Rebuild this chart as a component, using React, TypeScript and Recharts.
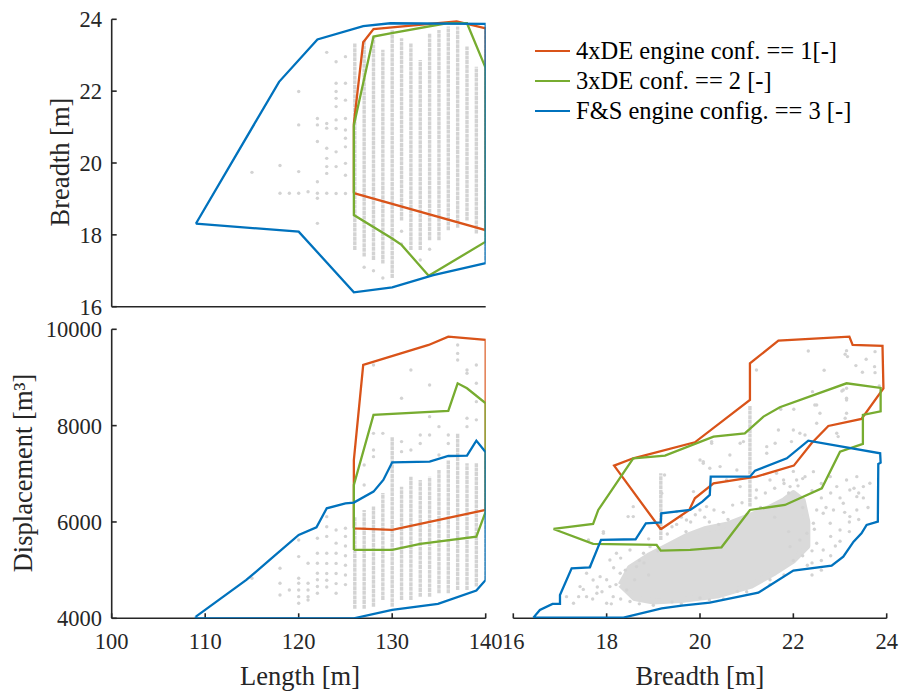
import React from 'react'
import { ComposedChart, Scatter, XAxis, YAxis } from 'recharts'

const RED = '#D95319'
const GREEN = '#77AC30'
const BLUE = '#0072BD'
const GREY = '#d3d3d3'
const INK = '#262626'
const FONT = '"Liberation Serif", "Times New Roman", serif'

const lengthTicks = [100, 110, 120, 130, 140]
const breadthTicks = [16, 18, 20, 22, 24]
const dispTicks = [4000, 6000, 8000, 10000]

const legendNames = ['4xDE engine conf. == 1[-]', '3xDE conf. == 2 [-]', 'F&S engine config. == 3 [-]']
const legendColors = [RED, GREEN, BLUE]

// ---- Length vs Breadth (top left) ----
const lbRed = [[125.9, 19.16], [125.9, 21.1], [126.9, 23.36], [128, 23.73], [136.9, 23.94], [140, 23.75], [140, 18.13], [125.9, 19.16]]
const lbGreen = [[125.9, 21.05], [128, 23.52], [129.8, 23.61], [135.8, 23.89], [138, 23.89], [140, 22.64], [140, 17.81], [133.9, 16.86], [131, 17.72], [130, 17.9], [125.9, 18.55], [125.9, 21.05]]
const lbBlue = [[109, 18.31], [117.9, 22.26], [122, 23.44], [126.9, 23.81], [129.8, 23.89], [140, 23.87], [140, 17.21], [134.4, 16.88], [130, 16.54], [125.9, 16.4], [120, 18.09], [109, 18.31]]
// dense columns of samples: length, lowest breadth, highest breadth
const lbColumns = [
  [126, 17.58, 23.33], [127, 17.4, 23.4], [128, 17.3, 23.52], [129, 17.2, 23.15], [130, 16.8, 23.7],
  [131, 18.4, 23.47], [132, 17.58, 23.33], [133, 17.58, 22.87], [134, 17.85, 23.6], [135, 17.85, 23.7],
  [136, 18.13, 23.8], [137, 18.2, 23.8], [138, 18.4, 23.24], [139, 18.04, 22.68], [140, 17.3, 23.8],
]
const lbDots = [
  [124, 22.82], [124, 22.22], [124, 21.99], [124, 21.8], [124, 21.57], [124, 21.2], [124, 20.96], [124, 20.31], [124, 19.9], [124, 19.15],
  [125, 22.96], [125, 22.22], [125, 21.75], [125, 21.24], [125, 20.92], [125, 20.69], [125, 20.45], [125, 19.99], [125, 19.66], [125, 19.15],
  [123, 23.08], [123, 21.1], [123, 20.97], [123, 20.41], [123, 20.13], [123, 19.9], [123, 19.71], [123, 19.16],
  [122, 21.24], [122, 21.06], [122, 20.6], [122, 19.48], [122, 19.16], [122, 19.02], [122, 18.32],
  [121, 19.2], [120, 21.99], [120, 21.06], [120, 19.76], [120, 19.16], [119, 19.16], [118, 19.93], [118, 19.16], [115, 19.74],
  [127, 17.1], [128, 17.0], [129, 16.8], [131, 17.75], [131, 18.1], [133, 17.3], [134, 17.6],
]

// ---- Length vs Displacement (bottom left) ----
const ldRed = [[125.9, 5869], [125.9, 7287], [126.9, 9260], [133.9, 9675], [136, 9848], [140, 9779], [140, 6249], [130, 5834], [125.9, 5869]]
const ldGreen = [[125.9, 5419], [125.9, 6768], [128, 8222], [136, 8305], [137, 8879], [138, 8775], [140, 8464], [140, 6215], [139, 5696], [133, 5544], [130, 5419], [125.9, 5419]]
const ldBlue = [
  [109, 4035], [114.4, 4796], [116.9, 5211], [120, 5730], [121.9, 5890], [123, 6284], [125, 6388], [125.9, 6402], [128, 6630], [129.05, 6872],
  [130, 7239], [134, 7253], [136, 7370], [138, 7377], [139, 7689], [140, 7447], [140, 4796], [139, 4575], [134.9, 4298], [130, 4173],
  [125.9, 4000], [109, 4000], [109, 4035],
]
const ldColumns = [
  [126, 4200, 6110], [127, 4200, 6250], [128, 4240, 6320], [129, 4380, 6600], [130, 4240, 7770],
  [131, 4380, 6730], [132, 4380, 6940], [133, 4450, 6870], [134, 4450, 6940], [135, 4520, 7080],
  [136, 4520, 7290], [137, 4590, 7840], [138, 4590, 7220], [139, 4660, 7220], [140, 4800, 7400],
]
const ldDots = [
  [115, 4831], [118, 5038], [118, 4727], [118, 4485], [119, 4589],
  [120, 5627], [120, 5281], [120, 4831], [120, 4727], [120, 4589], [120, 4450], [120, 4312],
  [121, 5142], [121, 4727], [121, 4589], [121, 4450], [121, 4381],
  [122, 5661], [122, 5350], [122, 5142], [122, 4935], [122, 4800], [122, 4660], [122, 4520],
  [123, 6110], [123, 5900], [123, 5700], [123, 5350], [123, 5140], [123, 4930], [123, 4790], [123, 4650],
  [124, 5834], [124, 5560], [124, 5350], [124, 5140], [124, 4930], [124, 4720], [124, 4520],
  [125, 5870], [125, 5700], [125, 5500], [125, 5300], [125, 5100], [125, 4900], [125, 4700],
  [127, 7184], [127, 6768], [128, 9260], [128, 7840], [128, 7495], [128, 7356], [129, 7840], [131, 8568], [131, 7668], [131, 7460],
  [132, 9156], [132, 7495], [133, 7806], [133, 7630], [134, 8844], [134, 8187], [134, 7806], [135, 7979], [135, 7391],
  [136, 7806], [136, 7630], [137, 9675], [137, 9500], [137, 9363], [138, 9156], [138, 9087], [138, 8152], [138, 7979],
  [139, 9260], [139, 8879], [139, 8498], [139, 8120],
]

// ---- Breadth vs Displacement (bottom right) ----
const bdRed = [
  [19.16, 5848], [18.16, 7170], [18.57, 7322], [19.89, 7654], [21.07, 8533], [21.07, 9294], [21.68, 9765], [23.2, 9848], [23.27, 9675],
  [23.91, 9654], [23.93, 8775], [23.46, 8138], [22.75, 7993], [22.39, 7633], [22.01, 7170], [21.21, 6941], [20.29, 6803], [19.89, 6492],
  [19.77, 6249], [19.16, 5848],
]
const bdGreen = [
  [16.86, 5855], [17.71, 5959], [17.82, 6249], [18.57, 7322], [19.25, 7377], [20.29, 7772], [20.96, 7841], [21.36, 8187], [21.71, 8381],
  [23.14, 8879], [23.87, 8782], [23.87, 8298], [23.49, 8222], [23.49, 7620], [23.0, 7460], [22.61, 6699], [21.82, 6353], [21.07, 6249],
  [20.46, 5474], [19.79, 5419], [19.16, 5405], [19.07, 5523], [17.71, 5544], [16.86, 5855],
]
const bdBlue = [
  [16.43, 4014], [16.57, 4173], [16.84, 4298], [17.0, 4298], [17.0, 4485], [17.25, 5038], [17.64, 5059], [17.88, 5627], [18.62, 5641],
  [18.84, 5973], [19.16, 5993], [19.17, 6180], [19.79, 6249], [20.05, 6423], [20.21, 6561], [20.23, 6941], [21.07, 6941], [21.18, 7066],
  [21.86, 7322], [22.32, 7689], [23.86, 7426], [23.87, 7232], [23.82, 7204], [23.81, 6007], [23.57, 5938], [23.46, 5765], [23.29, 5592],
  [23.07, 5281], [22.82, 5094], [22.0, 4990], [21.25, 4533], [20.21, 4326], [19.61, 4263], [19.18, 4208], [18.36, 4014], [16.43, 4014],
]
// outline of the densest part of the sample cloud
const bdCore = [
  [18.3, 4700], [18.5, 5050], [18.9, 5300], [19.3, 5500], [19.7, 5700], [20.1, 5850], [20.6, 5950], [21.0, 6100], [21.4, 6250],
  [21.8, 6450], [22.0, 6600], [22.2, 6450], [22.3, 6000], [22.3, 5500], [22.0, 5200], [21.6, 4950], [21.1, 4680], [20.4, 4480],
  [19.6, 4380], [19.0, 4350], [18.6, 4420], [18.3, 4700],
]
const bdStreaks = [[19.16, 5627, 7011], [21.07, 6320, 8420]]
const bdDots = [
  [22.32, 9550], [23.14, 9557], [23.11, 9481], [23.16, 9433], [23.75, 9536], [23.56, 9377], [21.21, 9156], [22.66, 9149], [23.34, 9246],
  [23.48, 9107], [23.74, 9225], [23.75, 9100], [23.84, 8824], [22.41, 8706], [23.04, 8720], [23.14, 8775], [23.14, 8568], [22.5, 8429],
  [22.01, 8339], [21.73, 8339], [23.14, 8256], [23.11, 8152],
  [20.07, 7253], [20.25, 7633], [20.93, 7668], [21.68, 7910], [22.0, 7910], [22.14, 7841], [22.25, 7806], [21.96, 7668], [22.46, 8429],
  [22.57, 8256], [22.5, 8048], [23.07, 8740], [23.14, 8533], [22.93, 7841], [22.96, 7772], [21.43, 7426], [21.61, 7633], [20.64, 7391],
  [20.79, 7080], [20.43, 7149], [20.21, 7115], [20.57, 6872], [20.86, 6734], [21.21, 6665], [21.5, 6872], [21.64, 7011], [21.79, 6872],
  [21.93, 6734], [22.07, 6872], [22.25, 6941], [22.43, 7045], [22.79, 6941], [22.93, 6734], [23.14, 6872], [23.36, 6941], [23.5, 6734],
  [23.64, 6803], [23.21, 6665], [23.36, 6526], [23.07, 6388], [22.86, 6249], [22.64, 6180], [22.79, 5973], [23.0, 5834], [23.21, 6111],
  [23.36, 6249], [22.43, 5973], [22.29, 5765], [22.14, 5627], [21.93, 5488], [22.5, 5557], [22.64, 5419], [22.9, 5500], [23.2, 6000],
  [19.24, 6976], [19.18, 6596], [18.57, 6111], [18.46, 6111], [17.93, 5800], [17.61, 5627], [18.21, 5350], [18.07, 5211], [17.64, 5073],
  [17.57, 4935], [17.71, 4796], [17.43, 4658], [17.14, 4450], [17.57, 4450], [17.79, 4519], [18.07, 4658], [17.29, 4312], [18.0, 4312],
  [18.14, 4450], [18.43, 4589], [17.86, 4865], [18.29, 4935], [18.64, 5073], [18.5, 5419], [18.79, 5350], [18.93, 5488], [20.07, 7218],
  [19.86, 6630], [19.5, 6215], [19.71, 6042], [20.14, 6319], [20.25, 7668], [20.86, 7633], [21.43, 7564], [20.0, 7287], [17.93, 5765],
  [18.57, 6318], [22.6, 6500], [22.7, 6300], [22.2, 6300], [21.6, 6100], [21.9, 5800], [22.6, 5200], [22.3, 5100], [21.5, 4800],
  [20.8, 4560], [20.0, 4420], [19.4, 4340],
  [17.7, 4400], [17.9, 4550], [18.0, 4800], [18.2, 4700], [18.3, 4400], [18.5, 4350], [18.6, 4800], [18.4, 5000], [18.8, 5150],
  [18.9, 4900], [17.8, 4650], [18.1, 4300], [17.4, 4450], [17.5, 4600],
  [19.3, 5750], [19.5, 5950], [19.7, 5800], [19.9, 6150], [20.1, 6100], [20.3, 6250], [20.5, 6200], [20.7, 6350], [20.9, 6400],
  [21.2, 6500], [21.4, 6600], [21.6, 6700], [21.8, 6800], [22.0, 7050], [22.2, 6900], [21.3, 6300], [21.0, 6150], [20.6, 6050], [19.8, 6000],
  [22.6, 6800], [22.8, 6600], [23.0, 6500], [23.3, 6700], [23.5, 6500], [23.6, 6300], [23.4, 6050], [23.2, 5800], [23.0, 5600],
  [22.8, 5300], [22.6, 5000], [22.4, 4900], [22.2, 5300], [22.0, 5200], [22.4, 5400], [22.8, 5700], [23.4, 6600], [23.1, 6200],
  [20.5, 4400], [21.0, 4550], [21.5, 4700], [21.8, 4900], [20.2, 4380], [19.6, 4300], [19.0, 4270], [18.7, 4300],
  [22.4, 6650], [22.5, 6250], [22.45, 5850], [22.4, 5150], [21.9, 6600], [20.4, 5950], [19.1, 5400], [18.7, 5200],
  [19.4, 5900], [19.6, 6100], [20.0, 6250], [20.2, 6000], [18.9, 5650], [18.3, 5250], [18.15, 5050], [22.1, 6750],
]

const toPts = (arr: number[][]) => arr.map(([x, y]) => ({ x, y }))
const noDot = () => <g />
const greyDot = (p: any) => <circle cx={p.cx} cy={p.cy} r={1.7} fill={GREY} />

const frame = { stroke: INK, strokeWidth: 1.6 }
const tickFont = { fill: INK, fontSize: 22.5, fontFamily: FONT }

function outline(key: string, pts: number[][], color: string) {
  return (
    <Scatter key={key} xAxisId="b" yAxisId="l" data={toPts(pts)} fill={color} shape={noDot}
      line={{ stroke: color, strokeWidth: 2.3 }} isAnimationActive={false} />
  )
}

function columns(key: string, cols: number[][]) {
  return cols.map(([x, lo, hi], i) => (
    <Scatter key={key + i} xAxisId="b" yAxisId="l" data={[{ x, y: lo }, { x, y: hi }]} fill={GREY} shape={noDot}
      line={{ stroke: GREY, strokeWidth: 3.4, strokeDasharray: '4 0.6' }} isAnimationActive={false} />
  ))
}

function dots(key: string, pts: number[][]) {
  return <Scatter key={key} xAxisId="b" yAxisId="l" data={toPts(pts)} fill={GREY} shape={greyDot} isAnimationActive={false} />
}

type PanelProps = {
  left: number; top: number; width: number; height: number
  margin: { top: number; right: number; left: number; bottom: number }
  xDomain: number[]; xTicks: number[]; yDomain: number[]; yTicks: number[]
  xLabels: boolean; yLabels: boolean; yWidth: number; xHeight: number
  children: React.ReactNode
}

function Panel(p: PanelProps) {
  return (
    <div style={{ position: 'absolute', left: p.left, top: p.top }}>
      <ComposedChart width={p.width} height={p.height} margin={p.margin}>
        <XAxis xAxisId="b" type="number" dataKey="x" orientation="bottom" domain={p.xDomain} ticks={p.xTicks} interval={0}
          allowDataOverflow height={p.xHeight} tickSize={-5} tickMargin={20} axisLine={frame} tickLine={frame}
          tick={p.xLabels ? tickFont : false} />
        <XAxis xAxisId="t" type="number" orientation="top" domain={p.xDomain} ticks={p.xTicks} interval={0}
          allowDataOverflow height={0} tickSize={-5} axisLine={frame} tickLine={frame} tick={false} />
        <YAxis yAxisId="l" type="number" dataKey="y" orientation="left" domain={p.yDomain} ticks={p.yTicks} interval={0}
          allowDataOverflow width={p.yWidth} tickSize={-5} tickMargin={14.7} axisLine={frame} tickLine={frame}
          tick={p.yLabels ? tickFont : false} />
        <YAxis yAxisId="r" type="number" orientation="right" domain={p.yDomain} ticks={p.yTicks} interval={0}
          allowDataOverflow width={0} tickSize={-5} axisLine={frame} tickLine={frame} tick={false} />
        {p.children}
      </ComposedChart>
    </div>
  )
}

const titleStyle: React.CSSProperties = {
  position: 'absolute', fontFamily: FONT, fontSize: 26.5, color: INK, whiteSpace: 'nowrap', lineHeight: 1,
}

export default function App() {
  return (
    <div style={{ position: 'absolute', left: 0, top: 0, width: 903, height: 693, background: '#fff', overflow: 'hidden' }}>
      <Panel left={0} top={0} width={500} height={345} margin={{ top: 19.3, right: 14.3, left: 0, bottom: 0 }}
        xDomain={[100, 140]} xTicks={lengthTicks} yDomain={[16, 24]} yTicks={breadthTicks}
        xLabels={false} yLabels yWidth={111.7} xHeight={38.3}>
        {columns('lbc', lbColumns)}
        {dots('lbd', lbDots)}
        {outline('lbr', lbRed, RED)}
        {outline('lbg', lbGreen, GREEN)}
        {outline('lbb', lbBlue, BLUE)}
      </Panel>

      <Panel left={0} top={310} width={510} height={383} margin={{ top: 19.3, right: 24.3, left: 0, bottom: 0 }}
        xDomain={[100, 140]} xTicks={lengthTicks} yDomain={[4000, 10000]} yTicks={dispTicks}
        xLabels yLabels yWidth={111.7} xHeight={74.7}>
        {columns('ldc', ldColumns)}
        {dots('ldd', ldDots)}
        {outline('ldr', ldRed, RED)}
        {outline('ldg', ldGreen, GREEN)}
        {outline('ldb', ldBlue, BLUE)}
      </Panel>

      <Panel left={490} top={320} width={413} height={373} margin={{ top: 9.3, right: 16.3, left: 23.3, bottom: 0 }}
        xDomain={[16, 24]} xTicks={breadthTicks} yDomain={[4000, 10000]} yTicks={dispTicks}
        xLabels yLabels={false} yWidth={0} xHeight={74.7}>
        <Scatter key="core" xAxisId="b" yAxisId="l" data={toPts(bdCore)} fill={GREY} shape={noDot}
          line={{ stroke: '#dadada', strokeWidth: 6, fill: '#dadada', strokeLinejoin: 'round' }} isAnimationActive={false} />
        {columns('bds', bdStreaks)}
        {dots('bdd', bdDots)}
        {outline('bdr', bdRed, RED)}
        {outline('bdg', bdGreen, GREEN)}
        {outline('bdb', bdBlue, BLUE)}
      </Panel>

      <div style={{ ...titleStyle, left: 60, top: 162, transform: 'translate(-50%, -50%) rotate(-90deg)' }}>Breadth [m]</div>
      <div style={{ ...titleStyle, left: 23, top: 473, transform: 'translate(-50%, -50%) rotate(-90deg)' }}>Displacement [m³]</div>
      <div style={{ ...titleStyle, left: 300, top: 676, transform: 'translate(-50%, -50%)' }}>Length [m]</div>
      <div style={{ ...titleStyle, left: 700, top: 676, transform: 'translate(-50%, -50%)' }}>Breadth [m]</div>

      <div style={{ position: 'absolute', left: 535, top: 36 }}>
        {legendNames.map((name, i) => (
          <div key={name} style={{ display: 'flex', alignItems: 'center', height: 30 }}>
            <div style={{ width: 35, borderTop: `2px solid ${legendColors[i]}`, marginRight: 6 }} />
            <span style={{ fontFamily: FONT, fontSize: 24.5, color: '#000', whiteSpace: 'nowrap' }}>{name}</span>
          </div>
        ))}
      </div>
    </div>
  )
}
